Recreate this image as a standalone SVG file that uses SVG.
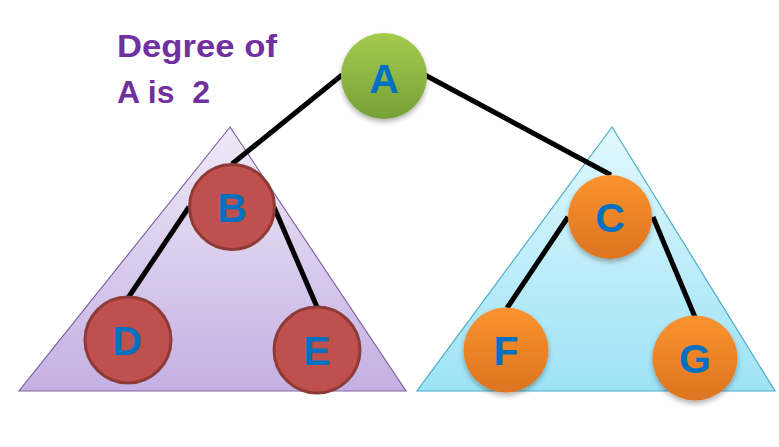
<svg xmlns="http://www.w3.org/2000/svg" width="779" height="447" viewBox="0 0 779 447">
<defs>
<linearGradient id="gPurple" x1="0" y1="0" x2="0" y2="1"><stop offset="0" stop-color="#efe9f7"/><stop offset="1" stop-color="#c4b0e3"/></linearGradient>
<linearGradient id="gCyan" x1="0" y1="0" x2="0" y2="1"><stop offset="0" stop-color="#e2f8fd"/><stop offset="1" stop-color="#9de3f6"/></linearGradient>
<linearGradient id="gGreen" x1="0" y1="0" x2="0" y2="1"><stop offset="0" stop-color="#a3cc4e"/><stop offset="1" stop-color="#77a038"/></linearGradient>
<linearGradient id="gOrange" x1="0" y1="0" x2="0" y2="1"><stop offset="0" stop-color="#fa932f"/><stop offset="1" stop-color="#dc7420"/></linearGradient>
<filter id="sh" x="-30%" y="-30%" width="160%" height="170%"><feDropShadow dx="0" dy="3" stdDeviation="2.5" flood-color="#000" flood-opacity="0.3"/></filter>
</defs>
<style>
.lbl{font-family:"Liberation Sans",Arial,sans-serif;font-weight:bold;font-size:41px;fill:#0070c0;text-anchor:middle}
.note{font-family:"Liberation Sans",Arial,sans-serif;font-weight:bold;font-size:32px;fill:#7030a0;white-space:pre}
.edge{stroke:#000;stroke-width:5;fill:none}
.red{fill:#c0504d;stroke:#8e3a37;stroke-width:3}
.green{fill:url(#gGreen)}
.orange{fill:url(#gOrange)}
</style>
<g id="subtree-left"><polygon points="230,127 19,391 406,391" fill="url(#gPurple)" stroke="#8064a2" stroke-width="1.2"/></g>
<g id="subtree-right"><polygon points="612,127 417,391 775,391" fill="url(#gCyan)" stroke="#4bacc6" stroke-width="1.2"/></g>
<g id="note"><text class="note" x="117" y="57" textLength="160" lengthAdjust="spacingAndGlyphs">Degree of</text><text class="note" x="117" y="103" textLength="93" lengthAdjust="spacingAndGlyphs" xml:space="preserve">A is  2</text></g>
<g id="connectors">
<line class="edge" x1="342" y1="75" x2="232" y2="164"/>
<line class="edge" x1="425" y1="75" x2="611" y2="175"/>
<line class="edge" x1="189" y1="207" x2="128" y2="298"/>
<line class="edge" x1="274" y1="207" x2="317" y2="307"/>
<line class="edge" x1="568" y1="217" x2="507" y2="308"/>
<line class="edge" x1="653" y1="217" x2="695" y2="317"/>
</g>
<g id="node-A"><circle class="green" cx="384" cy="76" r="43" filter="url(#sh)"/><text class="lbl" x="384" y="93">A</text></g>
<g id="node-B"><circle class="red" cx="232" cy="207" r="42.5"/><text class="lbl" x="232" y="222">B</text></g>
<g id="node-C"><circle class="orange" cx="610" cy="217" r="42" filter="url(#sh)"/><text class="lbl" x="610" y="232">C</text></g>
<g id="node-D"><circle class="red" cx="128" cy="340" r="43"/><text class="lbl" x="127" y="355">D</text></g>
<g id="node-E"><circle class="red" cx="317" cy="350" r="43"/><text class="lbl" x="317" y="365">E</text></g>
<g id="node-F"><circle class="orange" cx="506" cy="350" r="42.5" filter="url(#sh)"/><text class="lbl" x="506" y="365">F</text></g>
<g id="node-G"><circle class="orange" cx="695" cy="358" r="42.5" filter="url(#sh)"/><text class="lbl" x="695" y="373">G</text></g>
</svg>
